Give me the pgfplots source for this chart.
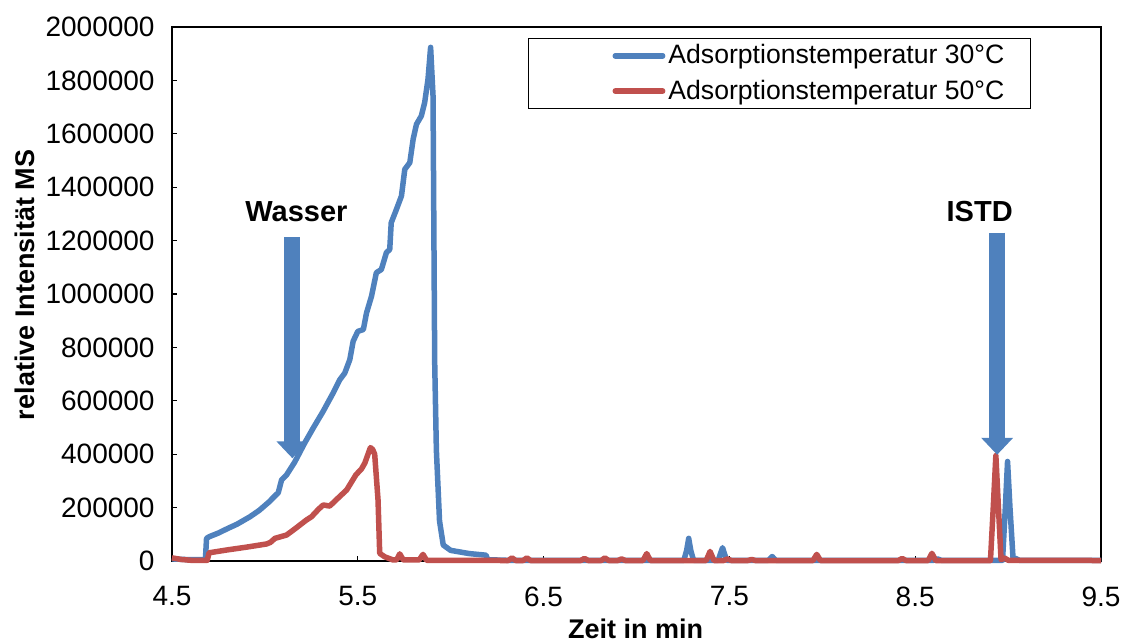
\documentclass[border=0pt]{standalone}
\usepackage{pgfplots}
\pgfplotsset{compat=1.18}
\usepackage{fontspec}
\setmainfont{Liberation Sans}
\usetikzlibrary{arrows.meta}
\definecolor{bl}{RGB}{79,129,189}
\definecolor{rd}{RGB}{192,80,77}

\begin{document}
\begin{tikzpicture}
\begin{axis}[
  scale only axis, width=464.5pt, height=267pt,
  xmin=4.5, xmax=9.5, ymin=0, ymax=2000000,
  clip=false,
  xtick={4.5,5.5,6.5,7.5,8.5,9.5},
  xticklabels={4.5,5.5,6.5,7.5,8.5,9.5},
  ytick={0,200000,400000,600000,800000,1000000,1200000,1400000,1600000,1800000,2000000},
  yticklabels={0,200000,400000,600000,800000,1000000,1200000,1400000,1600000,1800000,2000000},
  scaled y ticks=false,
  tick align=inside, major tick length=2.5pt,
  xtick pos=bottom, ytick pos=left,
  axis line style={black, line width=0.6pt},
  tick style={black, line width=0.6pt},
  ticklabel style={font=\fontsize{14}{16}\selectfont},
  xticklabel style={anchor=north, inner sep=0pt, yshift=-12.5pt},
  yticklabel style={anchor=east, inner sep=0pt, xshift=-8.5pt},
  xlabel={Zeit in min},
  xlabel style={at={(rel axis cs:0.499,-0.126)}, anchor=center, font=\fontsize{13.5}{16}\selectfont\bfseries},
  ylabel={relative Intensität MS},
  ylabel style={at={(rel axis cs:-0.1582,0.517)}, anchor=center, font=\fontsize{13.5}{16}\selectfont\bfseries},
  legend cell align=left,
  legend style={at={(rel axis cs:0.9246,0.9794)}, anchor=north east, draw=black, line width=0.6pt,
    font=\fontsize{13.3}{16}\selectfont, inner xsep=11.5pt, inner ysep=1pt, row sep=2.5pt,
    nodes={inner xsep=1.5pt, inner ysep=2pt}},
  legend image code/.code={%
    \pgfpathmoveto{\pgfqpoint{-30.5pt}{0pt}}\pgfpathlineto{\pgfqpoint{-29pt}{0pt}}\pgfusepath{discard}%
    \draw[#1, line width=2.75pt, line cap=round] (1.4pt,0pt) -- (25.1pt,0pt);},
]
\addplot[bl, line width=2.75pt, line join=round] coordinates {
(4.50,8000) (4.60,5000) (4.68,5000) (4.686,85000) (4.70,91000) (4.75,105000) (4.80,122000)
(4.85,138000) (4.92,166000) (4.97,190000) (5.02,220000) (5.06,248000) (5.072,256000) (5.09,304000)
(5.117,323000) (5.16,370000) (5.215,443000) (5.26,498000) (5.313,560000) (5.367,629000)
(5.403,679000) (5.43,704000) (5.457,754000) (5.475,823000) (5.50,860000) (5.53,867000)
(5.547,929000) (5.574,992000) (5.60,1080000) (5.627,1092000) (5.654,1155000) (5.672,1167000)
(5.68,1267000) (5.708,1317000) (5.735,1367000) (5.753,1467000) (5.78,1492000) (5.798,1580000)
(5.816,1636000) (5.842,1667000) (5.86,1717000) (5.878,1805000) (5.892,1924000)
(5.905,1742000) (5.914,743000) (5.923,416000) (5.94,150000) (5.96,60000) (6.00,40000)
(6.10,28000) (6.19,22000) (6.20,5000) (6.30,3000) (7.255,3000) (7.27,40000) (7.281,85000)
(7.292,40000) (7.307,3000) (7.44,3000) (7.463,50000) (7.485,3000) (7.71,3000) (7.73,17000)
(7.75,3000) (8.60,3000) (8.62,8000) (8.64,3000) (8.97,3000) (8.985,200000) (8.997,373000)
(9.01,200000) (9.027,5000) (9.04,10000) (9.06,3000) (9.50,3000)
};
\addlegendentry{Adsorptionstemperatur 30°C}
\addplot[rd, line width=2.75pt, line join=round] coordinates {
(4.50,12000) (4.55,6000) (4.60,3000) (4.69,3000) (4.70,31000) (4.80,42000) (4.90,52000)
(5.009,64000) (5.03,70000) (5.054,85000) (5.117,97500) (5.17,125000) (5.224,154000)
(5.251,166000) (5.29,195000) (5.314,210000) (5.349,206000) (5.40,240000) (5.44,266000)
(5.49,323000) (5.52,345000) (5.538,367000) (5.555,400000) (5.568,425000) (5.58,418000)
(5.591,400000) (5.609,229000) (5.618,29000) (5.645,16000) (5.69,4000) (5.71,5000)
(5.726,27000) (5.745,4000) (5.83,4000) (5.851,25000) (5.87,3000) (6.31,2000) (6.33,12000)
(6.35,2000) (6.39,2000) (6.41,12000) (6.43,2000) (6.70,2000) (6.72,10000) (6.74,2000)
(6.81,2000) (6.83,12000) (6.85,2000) (6.90,2000) (6.92,8000) (6.94,2000) (7.035,2000)
(7.055,28000) (7.075,2000) (7.375,2000) (7.396,36000) (7.417,2000) (7.47,2000) (7.49,8000)
(7.51,2000) (7.60,2000) (7.62,6000) (7.64,2000) (7.95,2000) (7.97,25000) (7.99,2000)
(8.41,2000) (8.43,10000) (8.45,2000) (8.57,2000) (8.59,29000) (8.61,2000) (8.905,2000)
(8.92,200000) (8.934,395000) (8.948,200000) (8.962,5000) (8.98,12000) (9.00,3000) (9.50,2000)
};
\addlegendentry{Adsorptionstemperatur 50°C}
\draw[bl, line width=8pt, -{Triangle[width=15.5pt,length=8.5pt]}] (axis cs:5.148,1212000) -- (axis cs:5.148,385000);
\draw[bl, line width=8pt, -{Triangle[width=15.5pt,length=8.5pt]}] (axis cs:8.941,1230000) -- (axis cs:8.941,398000);
\node[font=\fontsize{14.5}{16}\selectfont\bfseries, anchor=center] at (axis cs:5.170,1310000) {Wasser};
\node[font=\fontsize{14.5}{16}\selectfont\bfseries, anchor=center] at (axis cs:8.847,1309000) {ISTD};
\coordinate (bbsw) at (rel axis cs:-0.1851,-0.1498);
\coordinate (bbne) at (rel axis cs:1.0226,1.0506);
\end{axis}
\pgfresetboundingbox
\path[use as bounding box] (bbsw) rectangle (bbne);
\end{tikzpicture}
\end{document}
